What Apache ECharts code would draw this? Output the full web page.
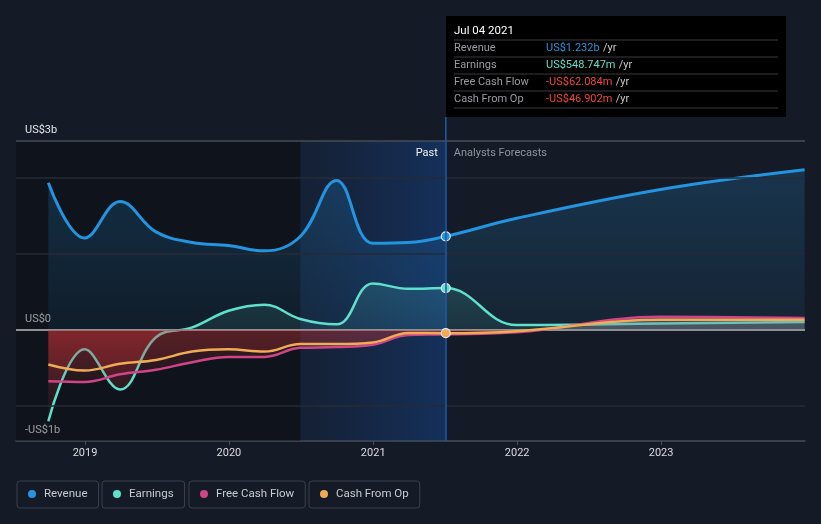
<!DOCTYPE html>
<html>
<head>
<meta charset="utf-8">
<script src="https://cdn.jsdelivr.net/npm/echarts@6/dist/echarts.min.js"></script>
<style>
html,body{margin:0;padding:0;background:#151b26;}
#chart{width:821px;height:524px;}
</style>
</head>
<body>
<div id="chart"></div>
<script>
// ---- data (values in US$ billions) ----
const dates = ['2018-09-30','2018-12-31','2019-03-31','2019-06-30','2019-09-30','2019-12-31','2020-03-31','2020-06-30','2020-09-30','2020-12-31','2021-03-31','2021-07-04','2021-12-31','2022-12-31','2023-12-31'];
const revenue  = [1.94, 1.21, 1.69, 1.29, 1.15, 1.11, 1.04, 1.23, 1.97, 1.14, 1.15, 1.232, 1.47, 1.85, 2.11];
const earnings = [-1.21, -0.26, -0.79, -0.10, 0.03, 0.25, 0.33, 0.14, 0.07, 0.61, 0.54, 0.549, 0.06, 0.08, 0.10];
const fcf      = [-0.68, -0.69, -0.59, -0.53, -0.43, -0.36, -0.36, -0.24, -0.23, -0.20, -0.07, -0.062, -0.035, 0.17, 0.155];
const cfo      = [-0.46, -0.54, -0.45, -0.40, -0.29, -0.26, -0.29, -0.19, -0.19, -0.17, -0.045, -0.047, -0.02, 0.13, 0.13];
const seriesNames = ['Revenue', 'Earnings', 'Free Cash Flow', 'Cash From Op'];
const yearTicks = ['2019-01-01','2020-01-01','2021-01-01','2022-01-01','2023-01-01'];
const yearLabels = ['2019','2020','2021','2022','2023'];
const yLabelValues = [-1.47, 0, 2.49];
const yTickLabels = ['-US$1b', 'US$0', 'US$3b'];
const gridValues = [-1, 1, 2];
const xMin = '2018-07-10', xMax = '2024-01-01';
const pastStart = '2020-06-30', nowDate = '2021-07-04';
const tooltipDate = 'Jul 04 2021';
const tooltipValues = ['US$1.232b', 'US$548.747m', '-US$62.084m', '-US$46.902m'];

const colors = ['#2394df', '#5ee0cc', '#cf4588', '#efac55'];
const valueColors = ['#2394df', '#5ee0cc', '#f0463c', '#f0463c'];
const ts = s => Date.UTC(+s.slice(0, 4), +s.slice(5, 7) - 1, +s.slice(8, 10));
const nowIdx = dates.indexOf(nowDate);

function nearestIdx(list, v) {
  let best = 0;
  list.forEach((x, i) => { if (Math.abs(x - v) < Math.abs(list[best] - v)) best = i; });
  return best;
}

function mkData(arr, withDot) {
  return dates.map((d, i) => {
    if (withDot && i === nowIdx) {
      return { value: [ts(d), arr[i]], symbol: 'circle', symbolSize: 9,
        itemStyle: { borderColor: '#e8e8f0', borderWidth: 1.2 } };
    }
    return [ts(d), arr[i]];
  });
}

const chart = echarts.init(document.getElementById('chart'), null, { renderer: 'canvas' });

function lineSeries(idx, arr, dot, extra) {
  return Object.assign({
    name: seriesNames[idx], type: 'line', data: mkData(arr, dot),
    smooth: 0.4, symbol: 'none', showSymbol: true,
    lineStyle: { width: idx === 0 ? 3 : 2.5, color: colors[idx] },
    itemStyle: { color: colors[idx] },
    areaStyle: { color: 'rgba(0,0,0,0)' },
    z: 3 + idx
  }, extra || {});
}

const yearTs = yearTicks.map(ts);
const option = {
  backgroundColor: '#151b26',
  animation: false,
  textStyle: { fontFamily: 'Roboto' },
  grid: { left: 16, right: 16, top: 141, bottom: 83 },
  xAxis: {
    type: 'value', min: ts(xMin), max: ts(xMax),
    axisLine: { onZero: false, lineStyle: { color: '#474c57', width: 1.5 } },
    axisTick: { show: true, customValues: yearTs, length: 4, lineStyle: { color: '#474c57' } },
    axisLabel: { customValues: yearTs, formatter: v => yearLabels[nearestIdx(yearTs, v)],
      color: '#dcdde0', fontSize: 11, margin: 7 },
    splitLine: { show: false }
  },
  yAxis: {
    type: 'value', min: yLabelValues[0], max: yLabelValues[2],
    axisLine: { show: false }, axisTick: { show: false }, splitLine: { show: false },
    axisLabel: {
      inside: true, customValues: yLabelValues, margin: 9,
      verticalAlign: 'bottom', padding: [0, 0, 5, 0],
      color: '#e4e5e8', fontSize: 11,
      formatter: v => yTickLabels[nearestIdx(yLabelValues, v)]
    }
  },
  legend: seriesNames.map((n, i) => ({
    data: [n], left: [17, 102, 189, 309][i], top: 481,
    icon: 'circle', itemWidth: 8, itemHeight: 8, itemGap: 0,
    padding: [7, 11, 8, 11], borderColor: '#3b404b', borderWidth: 1, borderRadius: 3,
    textStyle: { color: '#c8cad0', fontSize: 11.5, padding: [0, 0, 0, 3] },
    selectedMode: false
  })),
  series: [
    lineSeries(0, revenue, true, {
      markArea: {
        silent: true,
        data: [
          [{ xAxis: ts(xMin), itemStyle: { color: 'rgba(6,8,12,0.35)' } }, { xAxis: ts(pastStart) }],
          [{ xAxis: ts(pastStart), itemStyle: { color: new echarts.graphic.LinearGradient(0, 0, 1, 0, [
              { offset: 0, color: 'rgba(20,70,150,0.12)' }, { offset: 1, color: 'rgba(20,80,170,0.40)' }]) } },
           { xAxis: ts(nowDate) }]
        ]
      },
      markLine: {
        silent: true, symbol: 'none', label: { show: false },
        data: gridValues.map(v => ({ yAxis: v, lineStyle: { color: '#262b36', width: 1.5, type: 'solid' } }))
          .concat([
            { yAxis: yLabelValues[2], lineStyle: { color: '#474c57', width: 1.5, type: 'solid' } },
            { xAxis: ts(nowDate), lineStyle: { color: '#1d5aa8', width: 1.5, type: 'solid' } }
          ])
      }
    }),
    lineSeries(1, earnings, true),
    lineSeries(2, fcf, false),
    lineSeries(3, cfo, true, {
      markLine: {
        silent: true, symbol: 'none', label: { show: false },
        data: [{ yAxis: 0, lineStyle: { color: '#8e9096', width: 2, type: 'solid' } }]
      }
    })
  ]
};
chart.setOption(option);

// gradients in pixel space derived from the axis
const yTop = chart.convertToPixel({ yAxisIndex: 0 }, yLabelValues[2]);
const yZero = chart.convertToPixel({ yAxisIndex: 0 }, 0);
const yBot = chart.convertToPixel({ yAxisIndex: 0 }, yLabelValues[0]);
const f = (yZero - yTop) / (yBot - yTop);
function grad(posTop, posZero, negZero, negBot) {
  return new echarts.graphic.LinearGradient(0, yTop, 0, yBot, [
    { offset: 0, color: posTop }, { offset: f, color: posZero },
    { offset: f, color: negZero }, { offset: 1, color: negBot }], true);
}
const red0 = 'rgba(205,50,54,0.5)', red1 = 'rgba(205,50,54,0.02)';
chart.setOption({
  series: [
    { areaStyle: { color: grad('rgba(35,148,223,0.34)', 'rgba(35,148,223,0.10)', red0, red1) } },
    { areaStyle: { color: grad('rgba(94,224,204,0.45)', 'rgba(94,224,204,0.12)', red0, red1) } },
    { areaStyle: { color: grad('rgba(140,140,150,0.35)', 'rgba(140,140,150,0.30)', 'rgba(205,50,54,0.3)', red1) } },
    { areaStyle: { color: grad('rgba(140,140,150,0.35)', 'rgba(140,140,150,0.30)', 'rgba(205,50,54,0.3)', red1) } }
  ]
});

// tooltip-like info box and region labels
const xNow = chart.convertToPixel({ xAxisIndex: 0 }, ts(nowDate));
const bx = Math.round(xNow), by = 16, bw = 340, bh = 101;
const els = [
  { type: 'line', shape: { x1: xNow, y1: by + bh, x2: xNow, y2: yTop }, style: { stroke: '#1d5aa8', lineWidth: 1.5 }, z: 10 },
  { type: 'rect', shape: { x: bx, y: by, width: bw, height: bh }, style: { fill: '#000000' }, z: 10 },
  { type: 'text', x: bx + 8, y: by + 15, style: { text: tooltipDate, fill: '#ffffff', font: '11.5px Roboto', verticalAlign: 'middle' }, z: 11 }
];
const rowY = [48, 65, 82, 99];
const lineY = [40, 57, 74, 91, 108];
lineY.forEach(y => els.push({ type: 'line', shape: { x1: bx + 8, y1: y, x2: bx + bw - 8, y2: y },
  style: { stroke: '#3a3a3e', lineWidth: 1 }, z: 11 }));
seriesNames.forEach((n, i) => {
  els.push({ type: 'text', x: bx + 8, y: rowY[i], style: { text: n, fill: '#9a9ca2', font: '11px Roboto', verticalAlign: 'middle' }, z: 11 });
  els.push({ type: 'text', x: bx + 100, y: rowY[i], style: {
    text: '{v|' + tooltipValues[i] + '} {u|/yr}', verticalAlign: 'middle',
    rich: { v: { fill: valueColors[i], font: '11px Roboto' }, u: { fill: '#c8c8cc', font: '11px Roboto' } } }, z: 11 });
});
els.push({ type: 'text', x: xNow - 8, y: yTop + 12, style: { text: 'Past', fill: '#f2f2f4', font: '11px Roboto', align: 'right', verticalAlign: 'middle' }, z: 11 });
els.push({ type: 'text', x: xNow + 8, y: yTop + 12, style: { text: 'Analysts Forecasts', fill: '#8f939b', font: '11px Roboto', align: 'left', verticalAlign: 'middle' }, z: 11 });
chart.setOption({ graphic: { elements: els } });
</script>
</body>
</html>
